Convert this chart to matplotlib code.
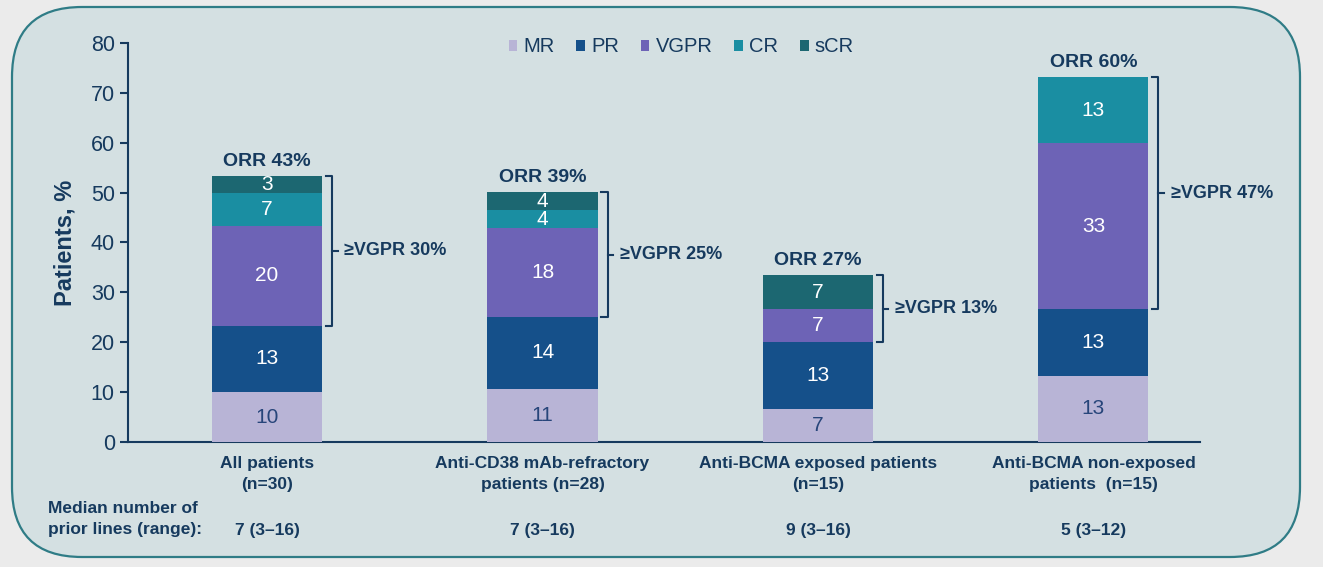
import numpy as np
import matplotlib.pyplot as plt
from matplotlib.patches import FancyBboxPatch

categories = ["All patients\n(n=30)", "Anti-CD38 mAb-refractory\npatients (n=28)",
              "Anti-BCMA exposed patients\n(n=15)", "Anti-BCMA non-exposed\npatients  (n=15)"]
responses = ["MR", "PR", "VGPR", "CR", "sCR"]
mr = [10.0, 10.7, 6.7, 13.3]
pr = [13.3, 14.3, 13.3, 13.3]
vgpr = [20.0, 17.9, 6.7, 33.3]
cr = [6.7, 3.6, 0.0, 13.3]
scr = [3.3, 3.6, 6.7, 0.0]
orr = [43, 39, 27, 60]
vgpr_plus = [30, 25, 13, 47]
median_lines = ["7 (3\u201316)", "7 (3\u201316)", "9 (3\u201316)", "5 (3\u201312)"]

colors = ["#b8b4d6", "#15508a", "#6d63b6", "#1a8ea2", "#1c6771"]
navy = "#163a5e"

plt.rcParams['font.family'] = ['Liberation Sans', 'DejaVu Sans']

fig = plt.figure(figsize=(13.23, 5.67), dpi=100, facecolor="#ebebeb")

# rounded panel behind the chart
bg = fig.add_axes([0, 0, 1, 1], zorder=0)
bg.set_xlim(0, 1323)
bg.set_ylim(567, 0)
bg.axis("off")
bg.add_patch(FancyBboxPatch((12, 7), 1288, 550, boxstyle="round,pad=0,rounding_size=70",
                            fc="#d4e0e2", ec="#2f7c86", lw=1.6))

ax = fig.add_axes([128 / 1323, 1 - 442 / 567, (1200 - 128) / 1323, 399 / 567], zorder=1)
ax.set_facecolor("none")

x = np.arange(len(categories))
width = 0.4
series = [mr, pr, vgpr, cr, scr]
bottom = np.zeros(len(categories))
for name, vals, col in zip(responses, series, colors):
    vals = np.array(vals)
    ax.bar(x, vals, width, bottom=bottom, color=col, label=name, zorder=3)
    for xi, b, v in zip(x, bottom, vals):
        if v > 0:
            tc = "#27457a" if name == "MR" else "white"
            ax.text(xi, b + v / 2, f"{round(v)}", ha="center", va="center",
                    color=tc, fontsize=15, zorder=4)
    bottom = bottom + vals

totals = bottom
for xi, tot, o in zip(x, totals, orr):
    ax.text(xi, tot + 1.2, f"ORR {o}%", ha="center", va="bottom", color=navy,
            fontsize=14, fontweight="bold")

# >=VGPR brackets
for i in range(len(categories)):
    top = totals[i]
    low = mr[i] + pr[i]
    bx = x[i] + width / 2 + 0.036
    ax.plot([bx - 0.022, bx, bx, bx - 0.022], [top, top, low, low], color=navy,
            lw=1.5, clip_on=False, zorder=4)
    mid = (top + low) / 2
    ax.plot([bx, bx + 0.02], [mid, mid], color=navy, lw=1.5, clip_on=False)
    ax.text(bx + 0.045, mid, f"\u2265VGPR {vgpr_plus[i]}%", ha="left", va="center",
            color=navy, fontsize=13, fontweight="bold")

ax.set_xlim(-0.505, 3.387)
ax.set_ylim(0, 80)
ax.set_yticks(range(0, 81, 10))
ax.set_xticks(x, categories)
for s in ["top", "right"]:
    ax.spines[s].set_visible(False)
for s in ["left", "bottom"]:
    ax.spines[s].set_color(navy)
    ax.spines[s].set_linewidth(1.5)
ax.tick_params(axis="y", colors=navy, labelsize=15.5, length=6, width=1.5, direction="out")
ax.tick_params(axis="x", length=0, pad=10, labelsize=12.5, labelcolor=navy)
for lab in ax.get_xticklabels():
    lab.set_fontweight("bold")
    lab.set_linespacing(1.5)
ax.set_ylabel("Patients, %", fontsize=17, fontweight="bold", color=navy, labelpad=10)

ax.legend(loc="center", bbox_to_anchor=(0.516, 0.99), ncol=5, frameon=False,
          handlelength=0.42, handleheight=0.42, handletextpad=0.3, columnspacing=1.1,
          labelcolor=navy, prop={"size": 14.5})

fig.text(48 / 1323, 1 - 519 / 567, "Median number of\nprior lines (range):", ha="left",
         va="center", color=navy, fontsize=12.5, fontweight="bold", linespacing=1.45)
for xi, m in zip(x, median_lines):
    ax.text(xi, (442 - 530) / 399, m, transform=ax.get_xaxis_transform(), ha="center",
            va="center", color=navy, fontsize=12.5, fontweight="bold")

fig.savefig("out.png", dpi=100, facecolor=fig.get_facecolor())
